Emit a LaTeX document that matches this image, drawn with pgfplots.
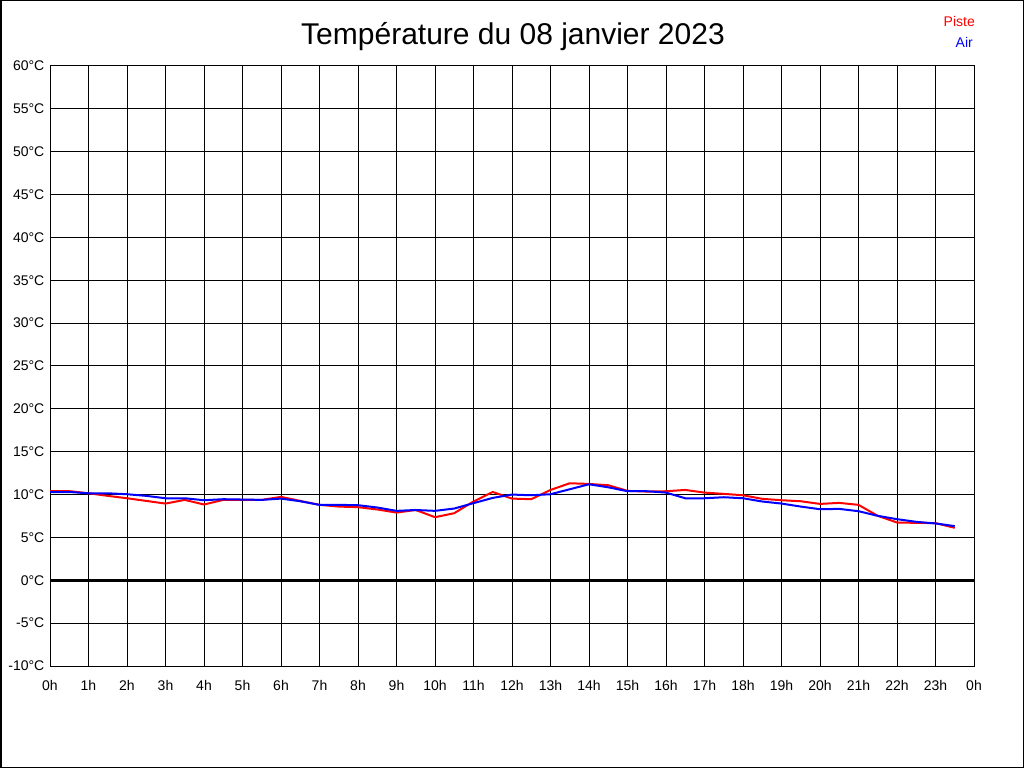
\documentclass[border=0pt]{standalone}
\usepackage{pgfplots}
\pgfplotsset{compat=1.18}
\usepackage{fontspec}
\setmainfont{Liberation Sans}

\pgfplotstableread{
t piste air
0    10.39 10.30
0.5  10.40 10.30
1    10.15 10.15
1.5  9.85  10.15
2    9.57  10.04
2.5  9.26  9.85
3    8.95  9.57
3.5  9.38  9.57
4    8.84  9.34
4.5  9.38  9.46
5    9.38  9.42
5.5  9.38  9.38
6    9.73  9.53
6.5  9.26  9.22
7    8.80  8.80
7.5  8.60  8.80
8    8.53  8.76
8.5  8.26  8.49
9    7.90  8.10
9.5  8.20  8.20
10   7.36  8.10
10.5 7.83  8.37
11   9.19  9.00
11.5 10.30 9.61
12   9.53  10.00
12.5 9.46  9.92
13   10.54 10.04
13.5 11.32 10.62
14   11.24 11.20
14.5 11.09 10.85
15   10.43 10.39
15.5 10.35 10.39
16   10.39 10.23
16.5 10.54 9.57
17   10.23 9.57
17.5 10.08 9.69
18   9.92  9.57
18.5 9.50  9.19
19   9.34  8.95
19.5 9.22  8.60
20   8.91  8.29
20.5 9.03  8.33
21   8.80  8.06
21.5 7.52  7.52
22   6.74  7.13
22.5 6.70  6.82
23   6.67  6.63
23.5 6.12  6.32
}\datatable

\begin{document}
\begin{tikzpicture}[x=1pt,y=1pt]
\useasboundingbox (0,0) rectangle (1024,768);
\fill[white] (0,0) rectangle (1024,768);
\draw[black, line width=1.5pt] (0.75,0.75) rectangle (1023.25,767.25);
\begin{axis}[
  at={(50pt,102pt)}, anchor=south west,
  scale only axis, width=924pt, height=600pt,
  xmin=0, xmax=24, ymin=-10, ymax=60,
  xtick={0,1,...,24},
  xticklabels={0h,1h,2h,3h,4h,5h,6h,7h,8h,9h,10h,11h,12h,13h,14h,15h,16h,17h,18h,19h,20h,21h,22h,23h,0h},
  ytick={-10,-5,...,60},
  yticklabels={-10°C,-5°C,0°C,5°C,10°C,15°C,20°C,25°C,30°C,35°C,40°C,45°C,50°C,55°C,60°C},
  major tick length=0pt,
  grid=major,
  major grid style={black, line width=1pt},
  axis line style={black, line width=1pt},
  tick label style={font=\fontsize{14}{16}\selectfont, text=black, inner sep=0pt},
  xticklabel style={anchor=north, yshift=-14pt},
  yticklabel style={anchor=east, xshift=-5.5pt},
]
\addplot[black, line width=3pt, forget plot] coordinates {(0,0) (24,0)};
\addplot[red, line width=2pt] table[x=t, y=piste] {\datatable};
\addplot[blue, line width=2pt] table[x=t, y=air] {\datatable};
\end{axis}
\node[anchor=base, font=\fontsize{30}{34}\selectfont] at (513,723) {Température du 08 janvier 2023};
\node[anchor=base east, text=red, font=\fontsize{14}{16}\selectfont, inner sep=0pt] at (975,741) {Piste};
\node[anchor=base east, text=blue, font=\fontsize{14}{16}\selectfont, inner sep=0pt] at (973,720) {Air};
\end{tikzpicture}
\end{document}
